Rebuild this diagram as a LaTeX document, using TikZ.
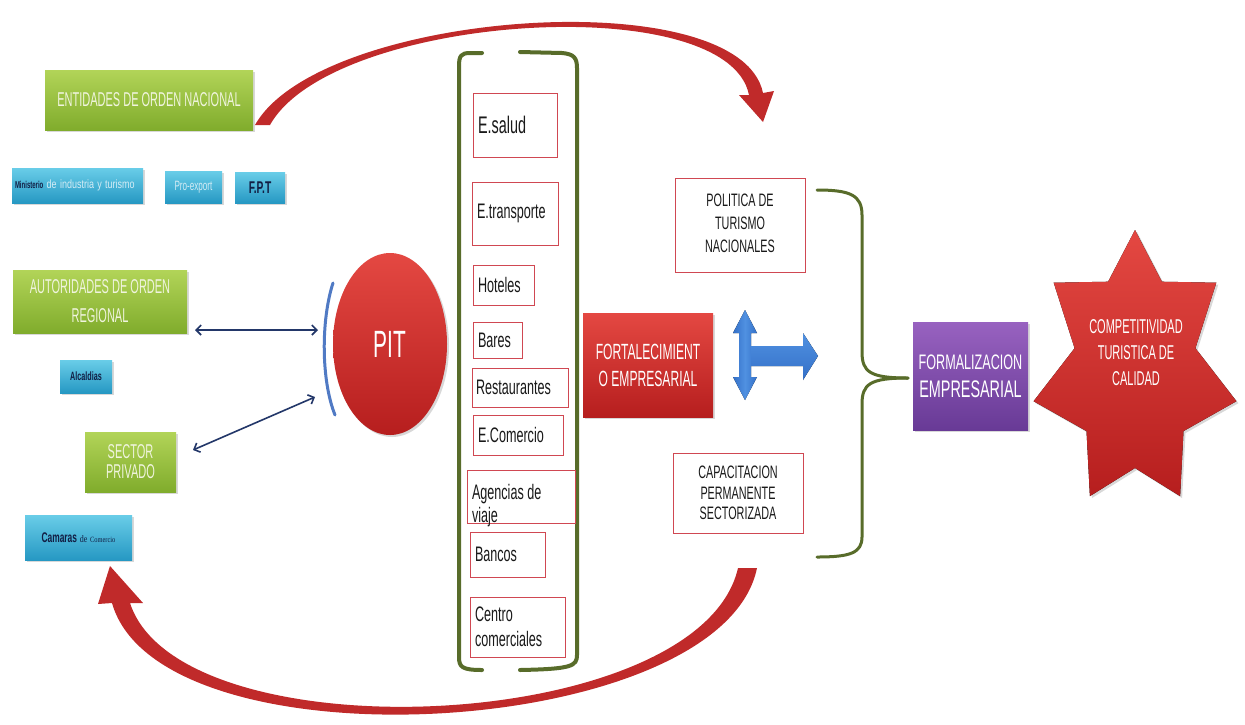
\documentclass[tikz,border=0pt]{standalone}
\usepackage{fontspec}
\setmainfont{Liberation Sans}
\newfontfamily\narA[FakeStretch=0.55]{Liberation Sans}
\newfontfamily\narB[FakeStretch=0.6]{Liberation Sans}
\newfontfamily\narC[FakeStretch=0.75]{Liberation Sans}
\newfontfamily\serifN[FakeStretch=0.8]{Liberation Serif}
\usetikzlibrary{shapes.geometric,shadows,arrows.meta}
\newcommand{\fsz}[2]{\fontsize{#1}{#2}\selectfont}
\definecolor{grnT}{RGB}{178,212,88}
\definecolor{grnB}{RGB}{128,172,44}
\definecolor{cyT}{RGB}{105,205,232}
\definecolor{cyB}{RGB}{38,152,195}
\definecolor{redT}{RGB}{228,72,66}
\definecolor{redB}{RGB}{182,30,30}
\definecolor{arcred}{RGB}{192,42,42}
\definecolor{olive}{RGB}{88,108,42}
\definecolor{navy}{RGB}{35,55,105}
\definecolor{boxred}{RGB}{208,72,82}
\definecolor{purT}{RGB}{152,98,192}
\definecolor{purB}{RGB}{104,58,150}
\definecolor{arrblue}{RGB}{52,112,200}
\definecolor{arrblueL}{RGB}{80,145,225}
\definecolor{arcblue}{RGB}{80,122,196}
\definecolor{lighttxt}{RGB}{240,244,222}
\definecolor{lightcy}{RGB}{212,236,245}
\definecolor{darktxt}{RGB}{18,30,68}
\definecolor{txtblack}{RGB}{25,25,25}
\tikzset{
  shad/.style={drop shadow={opacity=0.3,shadow xshift=2pt,shadow yshift=-2pt}},
  gbox/.style={rectangle, top color=grnT, bottom color=grnB, text=lighttxt, align=center, shad},
  cbox/.style={rectangle, top color=cyT, bottom color=cyB, align=center, shad},
  rbox/.style={rectangle, top color=redT, bottom color=redB, text=white, align=center, shad},
  pbox/.style={rectangle, top color=purT, bottom color=purB, text=white, align=center, shad},
  ibox/.style={rectangle, draw=boxred, line width=0.9pt, fill=white, text=txtblack,
               align=left, inner xsep=5pt, font=\narB\fsz{21}{24}},
  obox/.style={rectangle, draw=boxred, line width=0.9pt, fill=white},
  olab/.style={font=\narB\fsz{18}{23}, align=center, text=txtblack, inner sep=0pt},
  ilab/.style={font=\narB\fsz{21}{23}, align=left, text=txtblack, inner sep=0pt},
  darr/.style={navy, line width=1.6pt, {Straight Barb[length=5pt,width=10pt]}-{Straight Barb[length=5pt,width=10pt]}},
  brk/.style={olive, line width=4pt, line cap=round},
  brc/.style={olive, line width=3pt, line cap=round},
}
\begin{document}
\begin{tikzpicture}[x=1pt,y=-1pt, every node/.style={inner sep=0pt, outer sep=0pt}]
\useasboundingbox (0,0) rectangle (1245,724);
\fill[white] (0,0) rectangle (1245,724);

% big red curved arrows
\fill[arcred] (255,125) .. controls (320,10) and (740,-20) .. (763,93)
  -- (774,91) -- (763,122) -- (739,95) -- (749,95)
  .. controls (728,-12) and (332,14) .. (270,125) -- cycle;
\fill[arcred] (757,568) .. controls (722,740) and (160,772) .. (112,603)
  -- (98,604) -- (110,566) -- (143,603) -- (130,603)
  .. controls (180,757) and (700,735) .. (738,568) -- cycle;

% left column
\node[gbox, minimum width=208pt, minimum height=60pt, font=\narA\fsz{20}{24}] (ent) at (149,100) {ENTIDADES DE ORDEN NACIONAL};
\node[cbox, minimum width=131pt, minimum height=35pt, text width=125pt, align=left] (min) at (77.5,185.5)
  {{\narB\bfseries\fsz{10}{12}\color{darktxt}Ministerio} {\narC\fsz{12}{12}\color{lightcy}de industria y turismo}};
\node[cbox, minimum width=57pt, minimum height=32pt, font=\narB\fsz{13.5}{14}, text=lightcy] (pro) at (193.5,187) {Pro-export};
\node[cbox, minimum width=50pt, minimum height=31pt, font=\narB\bfseries\fsz{17}{17}, text=darktxt] (fpt) at (260,187.5) {F.P.T};
\node[gbox, minimum width=174pt, minimum height=63pt, font=\narA\fsz{20}{29}] (aut) at (100,301.5) {AUTORIDADES DE ORDEN\\REGIONAL};
\node[cbox, minimum width=52pt, minimum height=33pt, font=\narB\bfseries\fsz{12}{12}, text=darktxt] (alc) at (86,376.5) {Alcaldias};
\node[gbox, minimum width=91pt, minimum height=60pt, font=\narA\fsz{20}{20}, text=lighttxt] (sec) at (130.5,462) {SECTOR\\PRIVADO};
\node[cbox, minimum width=107pt, minimum height=45pt, text=darktxt] (cam) at (78.5,537.5)
  {{\narB\bfseries\fsz{14}{14}Camaras} {\serifN\fsz{10}{10}de} {\serifN\fsz{8}{8}Comercio}};

% PIT
\draw[arcblue, line width=3pt, line cap=round] (333,283) .. controls (321,320) and (321,380) .. (335,415);
\node[ellipse, minimum width=114pt, minimum height=182pt, top color=redT, bottom color=redB, text=white,
      font=\narA\fsz{38}{38}, shad] (pit) at (390,344) {PIT};
\coordinate (a1s) at (195,330);
\coordinate (a1e) at (318,330);
\coordinate (a2s) at (193,450);
\coordinate (a2e) at (315,397);
\draw[darr] (a1s) -- (a1e);
\draw[darr] (a2s) -- (a2e);

% bracket with items
\draw[brk] (482,53) -- (470,53) .. controls (461,53) and (459,56) .. (459,66) -- (459,657) .. controls (459,667) and (462,670) .. (482,670);
\draw[brk] (520,52) -- (562,53) .. controls (574,54) and (577,58) .. (577,68) -- (577,655) .. controls (577,666) and (572,669) .. (520,670);
\node[ibox, text width=74pt, minimum height=64pt, font=\narB\fsz{24}{26}] (sal) at (515,125) {E.salud};
\node[ibox, text width=76pt, minimum height=63pt] (tra) at (515,213.5) {E.transporte};
\node[ibox, text width=51pt, minimum height=40pt] (hot) at (503.5,285) {Hoteles};
\node[ibox, text width=39pt, minimum height=36pt] (bar) at (497.5,340) {Bares};
\node[ibox, minimum height=39pt, inner xsep=4pt, text width=88pt] (res) at (520,387.5) {Restaurantes};
\node[ibox, text width=80pt, minimum height=40pt] (com) at (518,435) {E.Comercio};
\node[obox, minimum width=108pt, minimum height=53pt,
      label={[ilab, anchor=north west, xshift=5pt, yshift=-14pt]north west:Agencias de\\viaje}] (age) at (521,496.5) {};
\node[ibox, text width=65pt, minimum height=45pt] (ban) at (507.5,554.5) {Bancos};
\node[ibox, text width=85pt, minimum height=60pt, font=\narB\fsz{21}{25}] (cen) at (517.5,627) {Centro\\comerciales};

% middle
\node[rbox, minimum width=130pt, minimum height=104pt, font=\narA\fsz{22}{27}] (fort) at (648,365) {FORTALECIMIENT\\O EMPRESARIAL};
\node[obox, minimum width=130pt, minimum height=94pt,
      label={[olab, anchor=north, yshift=-16pt]north:POLITICA DE\\TURISMO\\NACIONALES}] (pol) at (740,225) {};
\node[obox, minimum width=130pt, minimum height=80pt, font=\narB\fsz{18}{20.5}, text=txtblack, align=center] (cap) at (738,493) {CAPACITACION\\PERMANENTE\\SECTORIZADA};
\fill[left color=arrblue, right color=arrblue, middle color=arrblueL]
  (745,310) -- (757,333) -- (751,333) -- (751,377) -- (757,377) -- (745,400) -- (733,377) -- (739,377) -- (739,333) -- (733,333) -- cycle;
\fill[top color=arrblueL, bottom color=arrblue]
  (751,346) -- (803,346) -- (803,333) -- (818,356) -- (803,380) -- (803,366) -- (751,366) -- cycle;

% brace
\draw[brc] (817,190) .. controls (850,190) and (862,195) .. (862,215) -- (862,352) .. controls (862,372) and (870,378) .. (908,378);
\draw[brc] (908,378) .. controls (870,378) and (862,384) .. (862,404) -- (862,537) .. controls (862,553) and (850,557) .. (817,557);

% right
\node[pbox, minimum width=115pt, minimum height=108pt, font=\narB\fsz{24}{28}] (for) at (970.5,376)
  {{\fsz{21}{28}FORMALIZACION}\\EMPRESARIAL};
\fill[top color=redT, bottom color=redB, shad]
  (1135,230) -- (1161.9,281.7) -- (1216.3,282.7) -- (1195.4,348.2) -- (1236.4,401.2) -- (1183.5,431.1)
  -- (1180.1,496.1) -- (1135,468) -- (1089.9,496.1) -- (1086.5,431.1) -- (1033.6,401.2) -- (1074.6,348.2)
  -- (1053.7,282.7) -- (1108.1,281.7) -- cycle;
\node[font=\narA\fsz{20}{26}, text=white, align=center] (comp) at (1136,353) {COMPETITIVIDAD\\TURISTICA DE\\CALIDAD};
\end{tikzpicture}
\end{document}
